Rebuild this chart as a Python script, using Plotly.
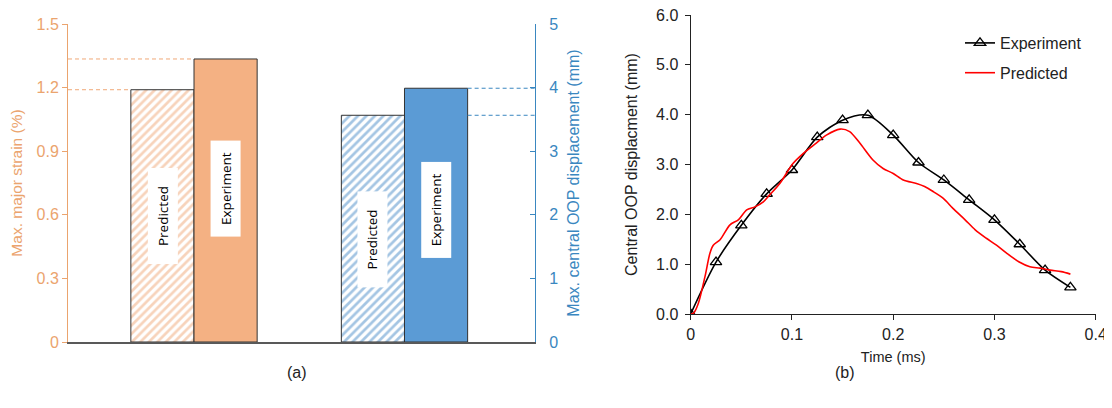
import plotly.graph_objects as go

# ---------------- data ----------------
bar_labels = ["Predicted", "Experiment"]
strain_values = [1.19, 1.335]          # Max. major strain (%)
disp_values = [3.565, 3.99]            # Max. central OOP displacement (mm)
group_pos = [1, 2]                     # strain group, displacement group

exp_time = [0.0, 0.025, 0.05, 0.075, 0.1, 0.125, 0.15, 0.175, 0.2, 0.225,
            0.25, 0.275, 0.3, 0.325, 0.35, 0.375]
exp_disp = [0.0, 1.04, 1.78, 2.41, 2.89, 3.55, 3.89, 3.99, 3.59, 3.04,
            2.69, 2.29, 1.89, 1.40, 0.88, 0.535]

pred_time = [0.0, 0.003, 0.0075, 0.0141, 0.019, 0.0223, 0.029, 0.0388, 0.047,
             0.0553, 0.0635, 0.0717, 0.078, 0.088, 0.101, 0.111, 0.124, 0.134,
             0.1475, 0.157, 0.167, 0.180, 0.190, 0.200, 0.210, 0.223, 0.231,
             0.240, 0.2495, 0.259, 0.271, 0.281, 0.292, 0.302, 0.312, 0.324,
             0.335, 0.345, 0.355, 0.366, 0.375]
pred_disp = [0.0, 0.02, 0.21, 0.75, 1.22, 1.38, 1.49, 1.79, 1.89,
             2.09, 2.15, 2.25, 2.39, 2.62, 3.02, 3.22, 3.43, 3.59,
             3.71, 3.66, 3.43, 3.09, 2.92, 2.82, 2.69, 2.62, 2.56,
             2.45, 2.32, 2.12, 1.89, 1.69, 1.52, 1.38, 1.22, 1.05,
             0.95, 0.92, 0.88, 0.85, 0.80]

# ---------------- layout helpers (page has an 8px body margin) ----------------
OFF = 8
W, H = 1112 - OFF, 408 - OFF


def px(x):
    return (x - OFF) / W


def py(y):
    return 1 - (y - OFF) / H


# ---------------- style ----------------
ORANGE_BAR = "#F4B183"
ORANGE_HATCH = "#F0A878"
ORANGE_AX = "#EBA46E"
BLUE_BAR = "#5B9BD5"
BLUE_HATCH = "#4A8CC8"
BLUE_AX = "#3A87C0"
BW = 0.3
FONT = "Liberation Sans, Arial, sans-serif"

fig = go.Figure()

# orange bars (left axis)
fig.add_trace(go.Bar(x=[group_pos[0]], y=[strain_values[0]], width=BW, offset=-BW,
                     marker=dict(color="white", line=dict(color="#333333", width=1),
                                 pattern=dict(shape="/", fgcolor=ORANGE_HATCH, bgcolor="white",
                                              size=6, solidity=0.45)),
                     xaxis="x", yaxis="y", showlegend=False))
fig.add_trace(go.Bar(x=[group_pos[0]], y=[strain_values[1]], width=BW, offset=0,
                     marker=dict(color=ORANGE_BAR, line=dict(color="#333333", width=1)),
                     xaxis="x", yaxis="y", showlegend=False))
# blue bars (right axis)
fig.add_trace(go.Bar(x=[group_pos[1]], y=[disp_values[0]], width=BW, offset=-BW,
                     marker=dict(color="white", line=dict(color="#333333", width=1),
                                 pattern=dict(shape="/", fgcolor=BLUE_HATCH, bgcolor="white",
                                              size=6, solidity=0.45)),
                     xaxis="x", yaxis="y2", showlegend=False))
fig.add_trace(go.Bar(x=[group_pos[1]], y=[disp_values[1]], width=BW, offset=0,
                     marker=dict(color=BLUE_BAR, line=dict(color="#333333", width=1)),
                     xaxis="x", yaxis="y2", showlegend=False))

# right chart lines
fig.add_trace(go.Scatter(x=exp_time, y=exp_disp, mode="lines+markers", name="Experiment",
                         legendgroup="exp",
                         line=dict(color="black", width=1.6, shape="spline", smoothing=0.8),
                         marker=dict(symbol="triangle-up-open", size=10, color="black",
                                     line=dict(width=1.3)),
                         xaxis="x3", yaxis="y3"))
fig.add_trace(go.Scatter(x=pred_time, y=pred_disp, mode="lines", name="Predicted",
                         legendgroup="pred",
                         line=dict(color="#FF0000", width=1.6, shape="spline", smoothing=0.8),
                         xaxis="x3", yaxis="y3"))

XR = [0.4014, 2.62]

# dashed guide lines
DASH = "4px,3px"
shapes = [
    dict(type="line", xref="x", yref="y", x0=XR[0], x1=group_pos[0] - BW,
         y0=strain_values[0], y1=strain_values[0], layer="above",
         line=dict(color=ORANGE_HATCH, width=1, dash=DASH)),
    dict(type="line", xref="x", yref="y", x0=XR[0], x1=group_pos[0],
         y0=strain_values[1], y1=strain_values[1], layer="above",
         line=dict(color=ORANGE_HATCH, width=1, dash=DASH)),
    dict(type="line", xref="x", yref="y2", x0=group_pos[1] + BW, x1=XR[1],
         y0=disp_values[0], y1=disp_values[0], layer="above",
         line=dict(color=BLUE_AX, width=1, dash=DASH)),
    dict(type="line", xref="x", yref="y2", x0=group_pos[1] + BW, x1=XR[1],
         y0=disp_values[1], y1=disp_values[1], layer="above",
         line=dict(color=BLUE_AX, width=1, dash=DASH)),
]

# bar labels in white boxes
lab_font = dict(family="Open Sans, sans-serif", size=13.5, color="black")
annotations = []
label_specs = [
    (group_pos[0] - BW / 2, 0.594, "y", bar_labels[0]),
    (group_pos[0] + BW / 2, 0.724, "y", bar_labels[1]),
    (group_pos[1] - BW / 2, 1.62, "y2", bar_labels[0]),
    (group_pos[1] + BW / 2, 2.07, "y2", bar_labels[1]),
]
for xx, yy, yr, txt in label_specs:
    annotations.append(dict(x=xx, y=yy, xref="x", yref=yr, text=txt, showarrow=False,
                            textangle=-90, bgcolor="white", width=93, height=27,
                            borderpad=1, font=lab_font))

annotations += [
    dict(x=px(285), y=py(383), xref="paper", yref="paper", text="(a)",
         showarrow=False, font=dict(family=FONT, size=16, color="#222222")),
    dict(x=px(857), y=py(383), xref="paper", yref="paper", text="(b)",
         showarrow=False, font=dict(family=FONT, size=16, color="#222222")),
]

fig.update_layout(
    width=W, height=H,
    margin=dict(l=0, r=0, t=0, b=0, autoexpand=False),
    paper_bgcolor="white", plot_bgcolor="white",
    barmode="overlay",
    font=dict(family=FONT, size=15, color="#222222"),
    shapes=shapes,
    annotations=annotations,
    xaxis=dict(domain=[px(68), px(535)], range=XR, showticklabels=False,
               ticks="", showgrid=False, zeroline=False, showline=True,
               linecolor="#595959", linewidth=1.5, anchor="y", automargin=False),
    yaxis=dict(domain=[py(342), py(24)], range=[0, 1.5], dtick=0.3,
               showgrid=False, zeroline=False, showline=True, linecolor=ORANGE_AX,
               linewidth=1, ticks="outside", ticklen=5, tickcolor=ORANGE_AX,
               tickfont=dict(color=ORANGE_AX, size=16), automargin=False,
               ticklabeloverflow="allow",
               title=dict(text="Max. major strain (%)", font=dict(color=ORANGE_AX, size=15.5),
                          standoff=10),
               anchor="x"),
    yaxis2=dict(overlaying="y", side="right", range=[0, 5], dtick=1, anchor="x",
                showgrid=False, zeroline=False, showline=True, linecolor=BLUE_AX,
                linewidth=1, ticks="inside", ticklen=5, tickcolor=BLUE_AX,
                tickfont=dict(color=BLUE_AX, size=16), automargin=False,
                ticklabelstandoff=10, ticklabeloverflow="allow",
                title=dict(text="Max. central OOP displacement (mm)",
                           font=dict(color=BLUE_AX, size=16), standoff=10)),
    xaxis3=dict(domain=[px(690.7), px(1095.7)], range=[0, 0.4], dtick=0.1,
                anchor="y3", showgrid=False, zeroline=False, showline=True,
                linecolor="#222222", linewidth=1.3, ticks="outside", ticklen=5,
                tickcolor="#222222", tickfont=dict(size=16), automargin=False,
                ticklabelstandoff=1, ticklabeloverflow="allow",
                title=dict(text="Time (ms)", font=dict(size=14.5), standoff=9)),
    yaxis3=dict(domain=[py(314), py(15)], range=[0, 6], dtick=1, tickformat=".1f",
                anchor="x3", showgrid=False, zeroline=False, showline=True,
                linecolor="#222222", linewidth=1.3, ticks="outside", ticklen=5,
                tickcolor="#222222", tickfont=dict(size=16), automargin=False,
                ticklabelstandoff=3, ticklabeloverflow="allow",
                title=dict(text="Central OOP displacment (mm)", font=dict(size=16),
                           standoff=14)),
    legend=dict(x=px(960), y=py(26), xanchor="left", yanchor="top",
                bgcolor="rgba(0,0,0,0)", font=dict(size=16), itemwidth=30,
                tracegroupgap=6),
)

fig.write_html("out.html")
